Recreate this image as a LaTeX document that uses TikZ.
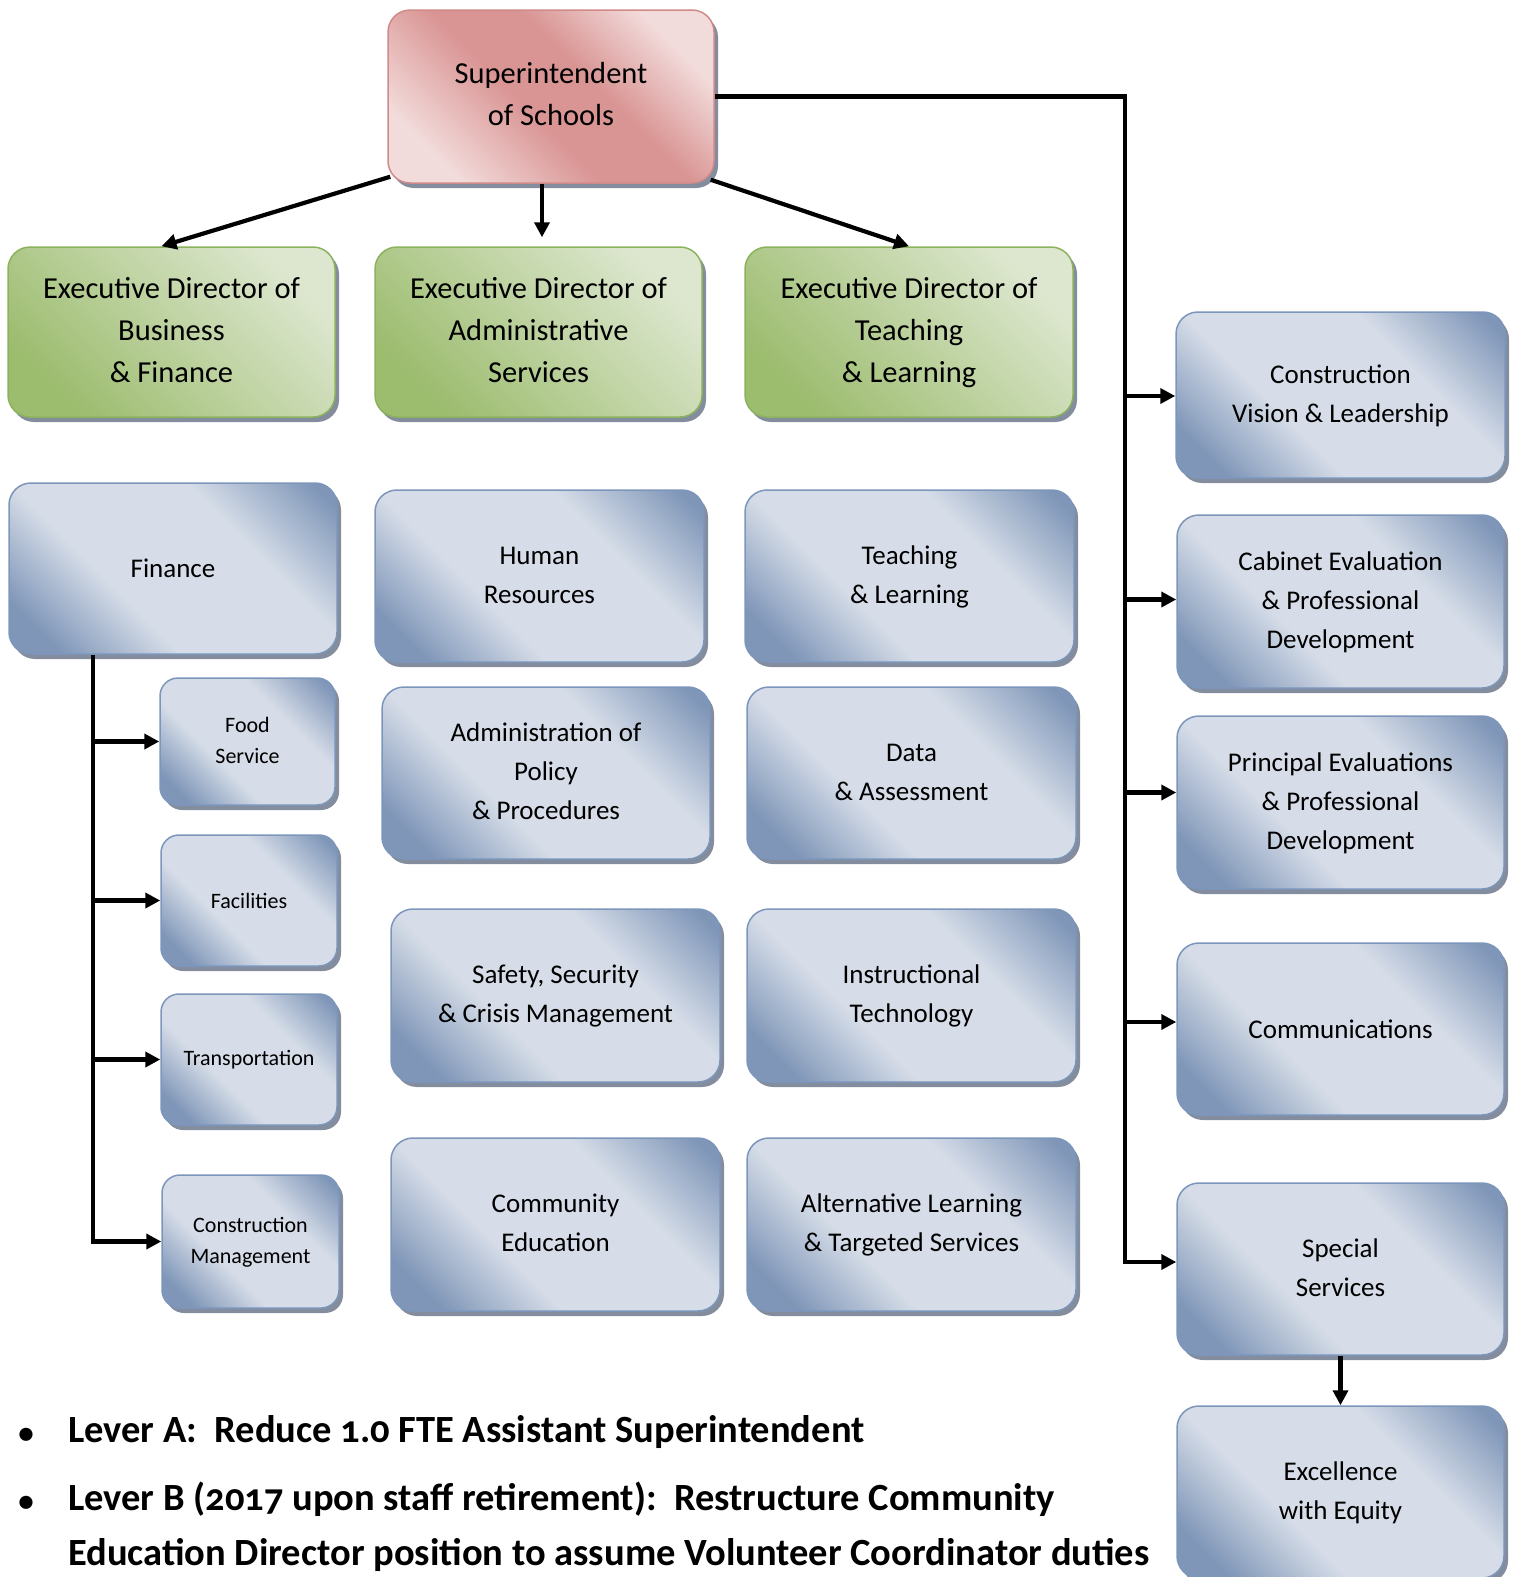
\documentclass[tikz,border=0pt]{standalone}
\usepackage{fontspec}
\setmainfont{Carlito}
\newfontfamily\bulfont[Numbers=OldStyle]{Carlito}
\usetikzlibrary{shadows,arrows.meta,calc}
\definecolor{bdark}{HTML}{7F96B8}
\definecolor{blight}{HTML}{D6DDE8}
\definecolor{bborder}{HTML}{7C96BB}
\definecolor{rdark}{HTML}{D99594}
\definecolor{rlight}{HTML}{F2DCDB}
\definecolor{rborder}{HTML}{D08A89}
\definecolor{gdark}{HTML}{9CBC6E}
\definecolor{glight}{HTML}{DDE7CF}
\definecolor{gborder}{HTML}{8CB25E}
\definecolor{shad}{HTML}{838D9D}
\pgfdeclarehorizontalshading{bshade}{100bp}{color(0bp)=(bdark); color(22bp)=(bdark); color(39bp)=(blight); color(64bp)=(blight); color(82bp)=(bdark); color(100bp)=(bdark)}
\pgfdeclarehorizontalshading{rshade}{100bp}{color(0bp)=(rlight); color(25bp)=(rlight); color(45bp)=(rdark); color(58bp)=(rdark); color(75bp)=(rlight); color(100bp)=(rlight)}
\tikzset{
  box/.style={rounded corners=22pt, inner sep=0pt, align=center, line width=1.5pt,
    drop shadow={shadow xshift=4pt, shadow yshift=-5pt, fill=shad, opacity=1}},
  bluebox/.style={box, draw=bborder, shading=bshade, shading angle=45},
  redbox/.style={box, draw=rborder, shading=rshade, shading angle=45},
  greenbox/.style={box, draw=gborder, left color=glight, right color=gdark, shading angle=-45},
  fbig/.style={font=\fontsize{30.5}{42}\selectfont},
  fmid/.style={font=\fontsize{27}{39}\selectfont},
  fsmall/.style={font=\fontsize{22}{31}\selectfont, rounded corners=18pt},
  smallsz/.style={minimum width=176pt, minimum height=131pt},
  conn/.style={line width=4.2pt, draw=black},
  arr/.style={conn, -{Triangle[length=15pt,width=15pt]}},
  bultext/.style={font=\bulfont\bfseries\fontsize{38.5}{50}\selectfont, inner sep=0pt, anchor=base west},
  bulmark/.style={font=\bulfont\bfseries\fontsize{31}{36}\selectfont, inner sep=0pt, anchor=base}
}
\begin{document}
\begin{tikzpicture}[x=1pt, y=-1pt]
\path[use as bounding box] (0,0) rectangle (1515,1577);
\clip (0,0) rectangle (1515,1577);
% top
\node[redbox, fbig, minimum width=326pt, minimum height=173pt] (sup) at (551,96.5) {\strut Superintendent\\of Schools\strut};
% executive directors
\node[greenbox, fbig, minimum width=327pt, minimum height=170pt] (edbf) at (171.5,332) {\strut Executive Director of\\Business\\\& Finance\strut};
\node[greenbox, fbig, minimum width=327pt, minimum height=170pt] (edas) at (538.5,332) {\strut Executive Director of\\Administrative\\Services\strut};
\node[greenbox, fbig, minimum width=328pt, minimum height=170pt] (edtl) at (909,332) {\strut Executive Director of\\Teaching\\\& Learning\strut};
% column 1
\node[bluebox, fmid, minimum width=328pt, minimum height=171pt] (fin) at (173,568.5) {Finance};
\node[bluebox, fsmall, minimum width=175pt, minimum height=127pt] (fs) at (247.5,741.5) {\strut Food\\Service\strut};
\node[bluebox, fsmall, smallsz] (fac) at (249,900.5) {Facilities};
\node[bluebox, fsmall, smallsz] (tr) at (249,1059.5) {Transportation};
\node[bluebox, fsmall, minimum width=177pt, minimum height=133pt] (cm) at (250.5,1241.5) {\strut Construction\\Management\strut};
% column 2
\node[bluebox, fmid, minimum width=329pt, minimum height=172pt] (hr) at (539.5,576) {\strut Human\\Resources\strut};
\node[bluebox, fmid, minimum width=328pt, minimum height=172pt] (aop) at (546,773) {\strut Administration of\\Policy\\\& Procedures\strut};
\node[bluebox, fmid, minimum width=329pt, minimum height=173pt] (scm) at (555.5,995.5) {\strut Safety, Security\\\& Crisis Management\strut};
\node[bluebox, fmid, minimum width=329pt, minimum height=173pt] (ce) at (555.5,1224.5) {\strut Community\\Education\strut};
% column 3
\node[bluebox, fmid, minimum width=329pt, minimum height=172pt] (tl) at (909.5,576) {\strut Teaching\\\& Learning\strut};
\node[bluebox, fmid, minimum width=329pt, minimum height=172pt] (da) at (911.5,773) {\strut Data\\\& Assessment\strut};
\node[bluebox, fmid, minimum width=329pt, minimum height=173pt] (it) at (911.5,995.5) {\strut Instructional\\Technology\strut};
\node[bluebox, fmid, minimum width=329pt, minimum height=173pt] (al) at (911.5,1224.5) {\strut Alternative Learning\\\& Targeted Services\strut};
% right column
\node[bluebox, fmid, minimum width=329pt, minimum height=166pt] (cvl) at (1340.5,395) {\strut Construction\\Vision \& Leadership\strut};
\node[bluebox, fmid, minimum width=327pt, minimum height=173pt] (cep) at (1340.5,601.5) {\strut Cabinet Evaluation\\\& Professional\\Development\strut};
\node[bluebox, fmid, minimum width=327pt, minimum height=173pt] (pep) at (1340.5,802.5) {\strut Principal Evaluations\\\& Professional\\Development\strut};
\node[bluebox, fmid, minimum width=327pt, minimum height=172pt] (com) at (1340.5,1029) {Communications};
\node[bluebox, fmid, minimum width=327pt, minimum height=172pt] (ss) at (1340.5,1269) {\strut Special\\Services\strut};
\node[bluebox, fmid, minimum width=327pt, minimum height=172pt] (ee) at (1340.5,1492) {\strut Excellence\\with Equity\strut};
% connectors from superintendent
\draw[arr] ($(sup.south west)+(3,-7)$) -- ([xshift=-10pt]edbf.north);
\draw[arr] ($(sup.south)+(-9,0)$) -- ($(edas.north)+(3.5,-9)$);
\draw[arr] ($(sup.south east)+(-4,-4)$) -- (edtl.north);
% right bus
\coordinate (rbus) at (1125,0);
\coordinate (cvlin) at ($(cvl.west)+(0,1)$);
\coordinate (cepin) at ($(cep.west)+(0,-2)$);
\coordinate (pepin) at ($(pep.west)+(0,-10)$);
\coordinate (comin) at ($(com.west)+(0,-7)$);
\coordinate (ssin) at ($(ss.west)+(0,-7)$);
\draw[arr] (sup.east) -| (rbus |- ssin) -- (ssin);
\draw[arr] (cvlin -| rbus) -- (cvlin);
\draw[arr] (cepin -| rbus) -- (cepin);
\draw[arr] (pepin -| rbus) -- (pepin);
\draw[arr] (comin -| rbus) -- (comin);
\draw[arr] (ss.south) -- (ee.north);
% finance bus
\coordinate (fbus) at (93,0);
\draw[arr] (fin.south -| fbus) |- (cm.west);
\draw[arr] (fs.west -| fbus) -- (fs.west);
\draw[arr] (fac.west -| fbus) -- (fac.west);
\draw[arr] (tr.west -| fbus) -- (tr.west);
% bullets
\node[bulmark] (m1) at (26,1443) {•};
\node[bultext] (l1) at (68,1442) {Lever A:\ \ Reduce 1.0 FTE Assistant Superintendent};
\node[bulmark] (m2) at (26,1511) {•};
\node[bultext] (l2) at (68,1510) {Lever B (2017 upon staff retirement):\ \ Restructure Community};
\node[bultext] (l3) at (68,1565) {Education Director position to assume Volunteer Coordinator duties};
\end{tikzpicture}
\end{document}
